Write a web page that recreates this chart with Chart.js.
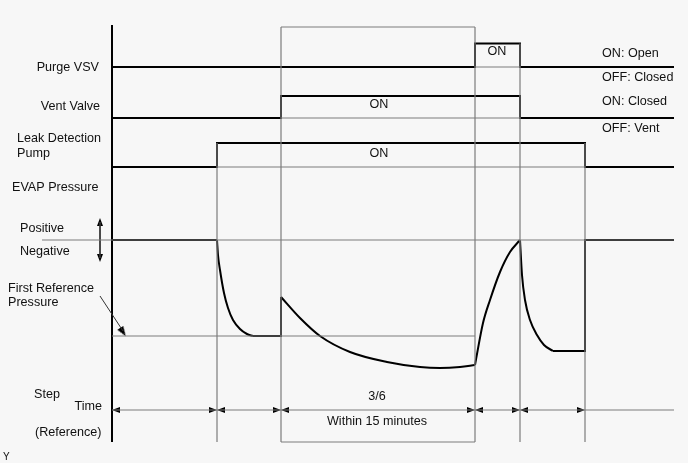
<!DOCTYPE html>
<html>
<head>
<meta charset="utf-8">
<script src="https://cdn.jsdelivr.net/npm/chart.js@4.4.1/dist/chart.umd.min.js"></script>
<style>
  html, body { margin: 0; padding: 0; background: #f7f7f7; }
  #wrap { width: 688px; height: 463px; position: relative; }
</style>
</head>
<body>
<div id="wrap"><canvas id="diagram"></canvas></div>
<script>
// step boundaries along the time axis
const stepBounds = [112, 217, 281, 475, 520, 585, 674];
// on/off state of each signal per step (6 steps)
const purgeVsv  = [0, 0, 0, 1, 0, 0];
const ventValve = [0, 0, 1, 1, 0, 0];
const leakPump  = [0, 1, 1, 1, 1, 0];

// EVAP pressure trace
const pressureFlat1 = [[112, 240], [217, 240]];
const pressureDrop1 = [[217, 240], [218, 255], [220, 270], [224, 293], [228, 308], [233, 320], [240, 329], [247, 334], [253, 336]];
const pressureHold1 = [[253, 336], [281, 336], [281, 297]];
const pressureDecay = [[281, 297], [300, 318], [320, 336], [350, 352], [387, 362], [420, 367], [440, 368], [460, 367], [475, 365]];
const pressureRise  = [[475, 365], [483, 323], [490, 300], [500, 272], [510, 252], [520, 240]];
const pressureDrop2 = [[520, 240], [522, 275], [525, 300], [530, 320], [537, 335], [544, 345], [553, 351]];
const pressureHold2 = [[553, 351], [585, 351], [585, 240], [674, 240]];

const refPressure = 336;
const zeroPressure = 240;

// track levels (low, high)
const rows = {
  purge: [67, 43.5],
  vent: [118, 96],
  pump: [167, 143]
};
const guideTops = [null, 143, 27, 27, 43.5, 143, null];
const timeRowY = 410;
const rowBottom = 442;

const BLACK = '#000';
const GRAY = '#7c7c7c';

function line(points, color, width, extra) {
  return Object.assign({
    type: 'line',
    data: points.map(p => ({ x: p[0], y: p[1] })),
    borderColor: color,
    borderWidth: width,
    pointRadius: 0,
    tension: 0,
    fill: false
  }, extra || {});
}

function stepTrace(states, lv) {
  const pts = [[stepBounds[0], lv[states[0]]]];
  for (let i = 1; i < states.length; i++) {
    if (states[i] !== states[i - 1]) {
      pts.push([stepBounds[i], lv[states[i - 1]]]);
      pts.push([stepBounds[i], lv[states[i]]]);
    }
  }
  pts.push([stepBounds[stepBounds.length - 1], lv[states[states.length - 1]]]);
  return pts;
}

function offBaseline(states, lv) {
  const out = [];
  states.forEach((s, i) => {
    if (s === 1) out.push(line([[stepBounds[i], lv[0]], [stepBounds[i + 1], lv[0]]], GRAY, 1.2));
  });
  return out;
}

function arrowImage(w, h) {
  const c = document.createElement('canvas');
  c.width = w; c.height = h;
  const g = c.getContext('2d');
  g.fillStyle = '#000';
  g.beginPath();
  g.moveTo(w / 2, 0);
  g.lineTo(w, h);
  g.lineTo(0, h);
  g.closePath();
  g.fill();
  return c;
}
const smallArrow = arrowImage(6, 8);
const bigArrow = arrowImage(7, 10);

// arrowheads on the time row
const arrowPts = [];
const arrowRot = [];
const last = stepBounds.length - 1;
stepBounds.forEach((x, i) => {
  if (i > 0 && i < last) { arrowPts.push({ x: x - 4, y: timeRowY }); arrowRot.push(90); }
  if (i < last - 1) { arrowPts.push({ x: x + 4, y: timeRowY }); arrowRot.push(270); }
});

const datasets = [];

// gray guides
stepBounds.forEach((x, i) => {
  if (guideTops[i] !== null) datasets.push(line([[x, guideTops[i]], [x, rowBottom]], GRAY, 1.2));
});
datasets.push(line([[stepBounds[2], 27], [stepBounds[3], 27]], GRAY, 1.2));
datasets.push(line([[stepBounds[2], rowBottom], [stepBounds[3], rowBottom]], GRAY, 1.2));
datasets.push(...offBaseline(purgeVsv, rows.purge));
datasets.push(...offBaseline(ventValve, rows.vent));
datasets.push(...offBaseline(leakPump, rows.pump));
datasets.push(line([[42, zeroPressure], [674, zeroPressure]], GRAY, 1.2));
datasets.push(line([[112, refPressure], [stepBounds[3], refPressure]], GRAY, 1.2));
datasets.push(line([[112, timeRowY], [674, timeRowY]], GRAY, 1.2));
datasets.push(line([[100, 222], [100, 258]], '#333', 1));
datasets.push(line([[100, 296], [123, 331]], '#333', 1));

// signals
datasets.push(line([[112, 25], [112, rowBottom]], BLACK, 2));
datasets.push(line(stepTrace(purgeVsv, rows.purge), BLACK, 2));
datasets.push(line(stepTrace(ventValve, rows.vent), BLACK, 2));
datasets.push(line(stepTrace(leakPump, rows.pump), BLACK, 2));
datasets.push(line(pressureFlat1, BLACK, 2));
[pressureDrop1, pressureDecay, pressureRise, pressureDrop2].forEach(p => {
  datasets.push(line(p, BLACK, 2, { cubicInterpolationMode: 'monotone' }));
});
datasets.push(line(pressureHold1, BLACK, 2));
datasets.push(line(pressureHold2, BLACK, 2));

// arrowheads
datasets.push({
  type: 'scatter', data: arrowPts, pointStyle: smallArrow, pointRotation: arrowRot,
  pointRadius: 4, showLine: false
});
datasets.push({
  type: 'scatter', data: [{ x: 100, y: 222 }, { x: 100, y: 258 }], pointStyle: smallArrow,
  pointRotation: [0, 180], pointRadius: 4, showLine: false
});
datasets.push({
  type: 'scatter', data: [{ x: 123, y: 332 }], pointStyle: bigArrow,
  pointRotation: [147], pointRadius: 4, showLine: false
});

const labels = [
  ['Purge VSV', 99, 68, 'right'],
  ['Vent Valve', 100, 107, 'right'],
  ['Leak Detection', 17, 139, 'left'],
  ['Pump', 17, 154, 'left'],
  ['EVAP Pressure', 12, 188, 'left'],
  ['Positive', 20, 229, 'left'],
  ['Negative', 20, 252, 'left'],
  ['First Reference', 8, 289, 'left'],
  ['Pressure', 8, 303, 'left'],
  ['Step', 34, 395, 'left'],
  ['Time', 102, 407, 'right'],
  ['(Reference)', 35, 433, 'left'],
  ['ON', 379, 105, 'center'],
  ['ON', 379, 154, 'center'],
  ['ON', 497, 52, 'center'],
  ['ON: Open', 602, 54, 'left'],
  ['OFF: Closed', 602, 78, 'left'],
  ['ON: Closed', 602, 102, 'left'],
  ['OFF: Vent', 602, 129, 'left'],
  ['3/6', 377, 397, 'center'],
  ['Within 15 minutes', 377, 422, 'center']
];

const textPlugin = {
  id: 'diagramText',
  afterDatasetsDraw(chart) {
    const { ctx, scales } = chart;
    ctx.save();
    ctx.fillStyle = '#111';
    ctx.textBaseline = 'middle';
    ctx.font = '12.6px "Liberation Sans", Arial, sans-serif';
    labels.forEach(([t, x, y, a]) => {
      ctx.textAlign = a;
      ctx.fillText(t, scales.x.getPixelForValue(x), scales.y.getPixelForValue(y));
    });
    ctx.font = '10px "Liberation Sans", Arial, sans-serif';
    ctx.textAlign = 'left';
    ctx.fillText('Y', scales.x.getPixelForValue(3), scales.y.getPixelForValue(457));
    ctx.restore();
  }
};

new Chart(document.getElementById('diagram'), {
  type: 'line',
  data: { datasets: datasets },
  options: {
    responsive: true,
    maintainAspectRatio: false,
    animation: false,
    events: [],
    layout: { padding: 0, autoPadding: false },
    plugins: { legend: { display: false }, tooltip: { enabled: false } },
    scales: {
      x: { type: 'linear', min: 0, max: 688, display: false },
      y: { type: 'linear', min: 0, max: 463, reverse: true, display: false }
    }
  },
  plugins: [textPlugin]
});
</script>
</body>
</html>
